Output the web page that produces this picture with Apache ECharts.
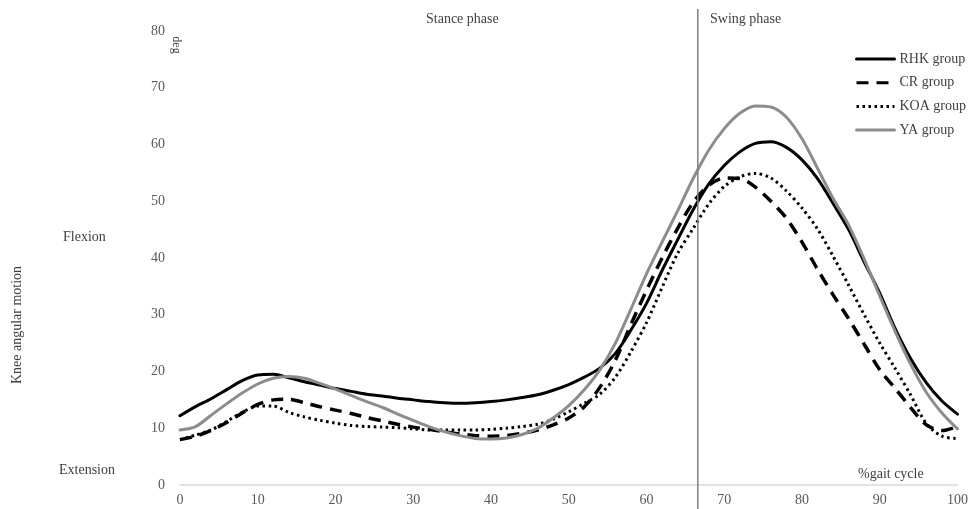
<!DOCTYPE html>
<html>
<head>
<meta charset="utf-8">
<script src="https://cdn.jsdelivr.net/npm/echarts@6/dist/echarts.min.js"></script>
<style>
  html, body { margin: 0; padding: 0; background: #fff; }
  #main { width: 971px; height: 509px; }
</style>
</head>
<body>
<div id="main"></div>
<script>
// % of gait cycle
const gaitPct = [0, 2, 4, 6, 8, 10, 12, 14, 16, 18, 20, 22, 24, 26, 28, 30, 32, 34, 36, 38, 40,
  42, 44, 46, 48, 50, 52, 54, 56, 58, 60, 62, 64, 66, 68, 70, 72, 74, 76, 78, 80,
  82, 84, 86, 88, 90, 92, 94, 96, 98, 100];

// knee angle (deg)
const rhkGroup = [12.2, 13.8, 15.2, 16.8, 18.4, 19.4, 19.5, 18.9, 18.2, 17.6, 17.0,
  16.5, 16.0, 15.7, 15.3, 15.0, 14.7, 14.5, 14.4, 14.5, 14.7,
  15.0, 15.4, 15.9, 16.7, 17.7, 19.0, 20.6, 23.2, 27.3, 32.0,
  37.8, 43.2, 48.5, 53.0, 56.3, 58.7, 60.2, 60.5, 59.5, 57.3,
  54.0, 49.6, 45.0, 39.3, 33.8, 27.5, 22.2, 18.0, 14.8, 12.5];

const crGroup = [8.0, 8.6, 9.6, 11.0, 12.7, 14.2, 15.0, 15.1, 14.5, 13.8, 13.2,
  12.6, 11.9, 11.3, 10.7, 10.2, 9.8, 9.4, 9.0, 8.7, 8.6,
  8.7, 9.1, 9.7, 10.6, 11.8, 13.8, 17.2, 22.0, 28.3, 34.3,
  40.0, 45.2, 49.8, 52.8, 54.1, 54.0, 52.5, 50.0, 47.0, 42.8,
  38.0, 33.5, 29.3, 24.8, 20.3, 17.0, 13.6, 10.6, 9.6, 10.3];

const koaGroup = [8.0, 8.8, 9.7, 11.2, 12.8, 13.9, 13.9, 12.8, 12.0, 11.4, 10.9,
  10.5, 10.3, 10.2, 10.1, 9.9, 9.7, 9.7, 9.7, 9.7, 9.8,
  10.0, 10.3, 10.7, 11.6, 12.9, 14.4, 16.0, 19.0, 23.5, 28.6,
  34.8, 40.8, 45.2, 49.5, 52.6, 54.3, 54.9, 54.1, 51.8, 48.8,
  45.1, 40.3, 35.2, 30.0, 25.0, 20.5, 15.8, 10.8, 8.6, 8.2];

const yaGroup = [9.7, 10.3, 12.3, 14.3, 16.2, 17.8, 18.8, 19.1, 18.8, 17.9, 16.9,
  15.8, 14.7, 13.7, 12.5, 11.4, 10.3, 9.4, 8.7, 8.2, 8.1,
  8.3, 8.9, 10.0, 11.8, 14.0, 16.8, 20.3, 25.0, 31.0, 37.2,
  42.8, 48.3, 54.0, 59.0, 62.8, 65.5, 66.8, 66.6, 64.8, 61.0,
  55.8, 50.5, 45.8, 39.8, 33.3, 27.0, 21.2, 16.3, 12.7, 9.9];

const swingStart = 66.6; // start of swing phase, % gait cycle

const font = 'Liberation Serif';
const chart = echarts.init(document.getElementById('main'));

function pairs(vals) {
  return gaitPct.map((x, i) => [x, vals[i]]);
}

function line(name, vals, color, width, type) {
  return {
    name: name,
    type: 'line',
    data: pairs(vals),
    smooth: 0.3,
    symbol: 'none',
    lineStyle: { color: color, width: width, type: type, cap: type === 'solid' ? 'round' : 'butt' },
    itemStyle: { color: color }
  };
}

chart.setOption({
  animation: false,
  grid: { left: 180, right: 9, top: 31, bottom: 24, containLabel: false },
  xAxis: {
    type: 'value',
    min: 0, max: 100, interval: 10,
    axisLine: { show: true, lineStyle: { color: '#d9d9d9', width: 1.5 } },
    axisTick: { show: false },
    splitLine: { show: false },
    axisLabel: { margin: 8, fontFamily: font, fontSize: 14, color: '#595959' }
  },
  yAxis: {
    type: 'value',
    min: 0, max: 80, interval: 10,
    axisLine: { show: false },
    axisTick: { show: false },
    splitLine: { show: false },
    axisLabel: { margin: 15, fontFamily: font, fontSize: 14, color: '#595959' }
  },
  legend: {
    orient: 'vertical',
    left: 850, top: 47,
    itemWidth: 38, itemHeight: 14, itemGap: 9.7,
    itemStyle: { opacity: 0 },
    lineStyle: { width: 3 },
    textStyle: { fontFamily: font, fontSize: 14, color: '#404040' },
    data: ['RHK group', 'CR group', 'KOA group', 'YA group']
  },
  series: [
    line('RHK group', rhkGroup, '#000000', 3, 'solid'),
    line('CR group', crGroup, '#000000', 3.5, [12, 8]),
    line('KOA group', koaGroup, '#000000', 3, [2.5, 3.5]),
    line('YA group', yaGroup, '#8c8c8c', 3, 'solid')
  ]
});

const lineX = chart.convertToPixel({ xAxisIndex: 0 }, swingStart);
const textStyle = { fontFamily: font, fontSize: 14, fill: '#404040' };

chart.setOption({
  graphic: [
    { type: 'line', shape: { x1: lineX, y1: 9, x2: lineX, y2: 509 },
      style: { stroke: '#808080', lineWidth: 1.5 }, z: 10 },
    { type: 'text', left: 426, top: 12, style: Object.assign({ text: 'Stance phase' }, textStyle) },
    { type: 'text', left: 710, top: 12, style: Object.assign({ text: 'Swing phase' }, textStyle) },
    { type: 'text', left: 63, top: 230, style: Object.assign({ text: 'Flexion' }, textStyle) },
    { type: 'text', left: 59, top: 463, style: Object.assign({ text: 'Extension' }, textStyle) },
    { type: 'text', left: 858, top: 467, style: Object.assign({ text: '%gait cycle' }, textStyle) },
    { type: 'text', x: 17, y: 325, rotation: Math.PI / 2,
      style: Object.assign({ text: 'Knee angular motion', align: 'center', verticalAlign: 'middle' }, textStyle) },
    { type: 'text', x: 176, y: 45, rotation: -Math.PI / 2,
      style: Object.assign({ text: 'deg', align: 'center', verticalAlign: 'middle' }, textStyle, { fontSize: 12 }) }
  ]
});
</script>
</body>
</html>
